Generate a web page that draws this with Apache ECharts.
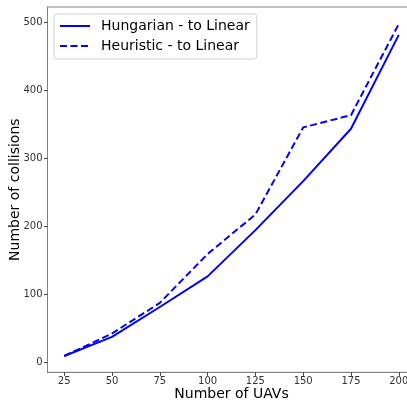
<!DOCTYPE html>
<html>
<head>
<meta charset="utf-8">
<script src="https://cdn.jsdelivr.net/npm/echarts@6/dist/echarts.min.js"></script>
<style>
  html, body { margin: 0; padding: 0; background: #fff; }
  #chart { width: 407px; height: 402px; }
</style>
</head>
<body>
<div id="chart"></div>
<script>
// Number of UAVs on the x axis
const uavCounts = [25, 50, 75, 100, 125, 150, 175, 200];
// Collisions per assignment method
const hungarian = [9, 37, 81, 126, 194, 266, 343, 481];
const heuristic = [9, 42, 87, 159, 217, 345, 363, 497];
// Tick values
const xTicks = [25, 50, 75, 100, 125, 150, 175, 200];
const yTicks = [0, 100, 200, 300, 400, 500];

const FONT = 'DejaVu Sans';
const BLUE = '#0000ff';

const chart = echarts.init(document.getElementById('chart'), null, { renderer: 'canvas' });

const pairs = (ys) => uavCounts.map((x, i) => [x, ys[i]]);

chart.setOption({
  animation: false,
  backgroundColor: '#ffffff',
  grid: {
    left: 47.5, top: 7, width: 368, height: 365.3,
    outerBoundsMode: 'none', containLabel: false,
    show: true, borderColor: '#808080', borderWidth: 1
  },
  legend: {
    orient: 'vertical',
    left: 54,
    top: 14,
    padding: [5, 7, 6, 5],
    itemGap: 6,
    itemWidth: 30,
    itemHeight: 14,
    backgroundColor: 'rgba(255,255,255,0.8)',
    borderColor: '#d0d0d0',
    borderWidth: 1,
    borderRadius: 3,
    itemStyle: { opacity: 0 },
    textStyle: { fontFamily: FONT, fontSize: 14, color: '#000', padding: [0, 0, 0, 6] },
    data: ['Hungarian - to Linear', 'Heuristic - to Linear']
  },
  xAxis: {
    type: 'value',
    min: 16.25,
    max: 208.75,
    name: 'Number of UAVs',
    nameLocation: 'middle',
    nameGap: 15.5,
    nameMoveOverlap: false,
    nameTextStyle: { fontFamily: FONT, fontSize: 14, color: '#000' },
    splitLine: { show: false },
    axisLine: { show: true, onZero: false, lineStyle: { color: '#808080', width: 1 } },
    axisTick: { show: true, customValues: xTicks, length: 3.5, lineStyle: { color: '#404040' } },
    axisLabel: { customValues: xTicks, fontFamily: FONT, fontSize: 10, color: '#333', margin: 4 }
  },
  yAxis: {
    type: 'value',
    min: -15,
    max: 522,
    name: 'Number of collisions',
    nameLocation: 'middle',
    nameGap: 25,
    nameMoveOverlap: false,
    nameTextStyle: { fontFamily: FONT, fontSize: 14, color: '#000' },
    splitLine: { show: false },
    axisLine: { show: true, onZero: false, lineStyle: { color: '#808080', width: 1 } },
    axisTick: { show: true, customValues: yTicks, length: 3.5, lineStyle: { color: '#404040' } },
    axisLabel: { customValues: yTicks, fontFamily: FONT, fontSize: 10, color: '#333', margin: 5 }
  },
  series: [
    {
      name: 'Hungarian - to Linear',
      type: 'line',
      data: pairs(hungarian),
      symbol: 'none',
      symbolSize: 0,
      color: BLUE,
      lineStyle: { color: BLUE, width: 2, type: 'solid' }
    },
    {
      name: 'Heuristic - to Linear',
      type: 'line',
      data: pairs(heuristic),
      symbol: 'none',
      symbolSize: 0,
      color: BLUE,
      lineStyle: { color: BLUE, width: 2, type: [7, 3.5] }
    }
  ]
});
</script>
</body>
</html>
